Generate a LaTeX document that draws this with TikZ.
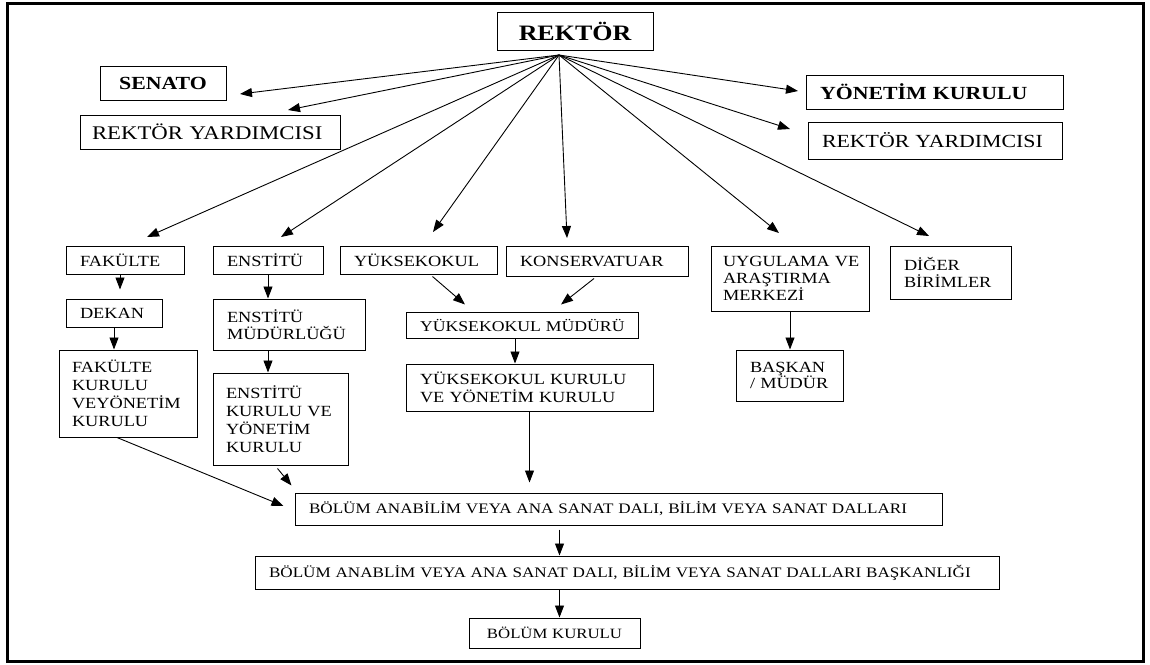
\documentclass[tikz,border=0pt]{standalone}
\usepackage{fontspec}
\setmainfont{Liberation Serif}[FakeStretch=1.18]
\usepackage{tikz}
\usetikzlibrary{arrows.meta}
\usetikzlibrary{calc}

\tikzset{
	box/.style={draw, line width=1pt, inner xsep=14pt, inner ysep=0pt, align=left, font=\fontsize{15.5}{18}\selectfont,
		execute at begin node={\hyphenpenalty=10000}},
	head/.style={draw, line width=1pt, inner sep=0pt, align=center, font=\bfseries\fontsize{18.5}{21}\selectfont},
	arr/.style={-{Triangle[length=12pt,width=9pt]}, line width=0.9pt},
}

\begin{document}
\begin{tikzpicture}[x=1pt,y=-1pt]
	\useasboundingbox (0,0) rectangle (1150,664);
	\draw [line width=3pt] (7,3) rectangle (1143,661);

	\node [head, minimum width=156pt, minimum height=38pt, font=\bfseries\fontsize{22}{25}\selectfont] (rek) at (575,31) {REKTÖR};
	\node [head, minimum width=126pt, minimum height=34pt] (sen) at (163,83) {SENATO};
	\node [box, inner xsep=12pt, text width=236pt, minimum height=34pt, font=\fontsize{19.3}{22}\selectfont] (ryl) at (210,132) {REKTÖR~YARDIMCISI};
	\node [box, text width=229pt, minimum height=34pt, font=\bfseries\fontsize{18.5}{21}\selectfont] (ynk) at (934.5,92) {YÖNETİM~KURULU};
	\node [box, inner xsep=14pt, text width=226pt, minimum height=37pt, font=\fontsize{18.5}{21}\selectfont] (ryr) at (935,140.5) {REKTÖR~YARDIMCISI};

	\node [box, text width=90pt, minimum height=28pt] (fak) at (125,260) {FAKÜLTE};
	\node [box, text width=82pt, minimum height=28pt] (ens) at (268,260) {ENSTİTÜ};
	\node [box, text width=129pt, minimum height=28pt] (yuk) at (418.5,260) {YÜKSEKOKUL};
	\node [box, text width=154pt, minimum height=30pt] (kon) at (597,261) {KONSERVATUAR};
	\node [box, inner xsep=12pt, text width=134pt, minimum height=65pt, font=\fontsize{15.5}{17}\selectfont] (uyg) at (790,278.5) {UYGULAMA~VE\\ARAŞTIRMA\\MERKEZİ};
	\node [box, text width=93pt, minimum height=53pt, font=\fontsize{15.5}{17}\selectfont] (dig) at (950.5,272.5) {DİĞER\\BİRİMLER};

	\node [box, text width=68pt, minimum height=28pt] (dek) at (114,313) {DEKAN};
	\node [box, inner xsep=13pt, text width=112pt, minimum height=87pt] (fkk) at (128,393.5) {FAKÜLTE\\KURULU\\VEYÖNETİM\\KURULU};
	\node [box, text width=124pt, minimum height=51pt, font=\fontsize{15.5}{17}\selectfont] (enm) at (289,324.5) {ENSTİTÜ\\MÜDÜRLÜĞÜ};
	\node [box, inner xsep=13pt, text width=109pt, minimum height=92pt] (enk) at (280.5,419) {ENSTİTÜ\\KURULU~VE\\YÖNETİM\\KURULU};
	\node [box, text width=204pt, minimum height=26pt, font=\fontsize{15}{18}\selectfont] (ykm) at (522,325) {YÜKSEKOKUL~MÜDÜRÜ};
	\node [box, text width=219pt, minimum height=47pt] (ykk) at (529.5,387.5) {YÜKSEKOKUL~KURULU\\VE~YÖNETİM~KURULU};
	\node [box, text width=79pt, minimum height=51pt, font=\fontsize{15.5}{16}\selectfont] (bas) at (789.5,375.5) {BAŞKAN\\/~MÜDÜR};

	\node [box, text width=619pt, minimum height=32pt, font=\fontsize{14.5}{17}\selectfont] (bol) at (618.5,509) {BÖLÜM ANABİLİM VEYA ANA SANAT DALI, BİLİM VEYA SANAT DALLARI};
	\node [box, text width=716pt, minimum height=33pt, font=\fontsize{14.5}{17}\selectfont] (bsk) at (627,572.5) {BÖLÜM ANABLİM VEYA ANA SANAT DALI, BİLİM VEYA SANAT DALLARI BAŞKANLIĞI};
	\node [box, align=center, text width=143pt, minimum height=30pt, font=\fontsize{14.2}{17}\selectfont] (bkr) at (554.5,633) {BÖLÜM~KURULU};

	\coordinate [] (hub) at (559,55);
	\coordinate [] (t-sen) at (240,94);
	\coordinate [] (t-ryl) at (288,110);
	\coordinate [] (t-ynk) at (798,91);
	\coordinate [] (t-ryr) at (790,129);
	\coordinate [] (t-fak) at (147,237);
	\coordinate [] (t-ens) at (281,237);
	\coordinate [] (t-yuk) at (433,232);
	\coordinate [] (t-kon) at (567,238);
	\coordinate [] (t-uyg) at (779,233);
	\coordinate [] (t-dig) at (929,236);

	\foreach \t in {sen,ryl,ynk,ryr,fak,ens,yuk,kon,uyg,dig}
		\draw [arr] (hub) -- (t-\t);

	\draw [arr, shorten >=9pt] ([xshift=-5pt]fak.south) -- ([xshift=6pt]dek.north);
	\draw [arr] (dek.south) -- (dek.south |- fkk.north);
	\draw [arr] (ens.south) -- (ens.south |- enm.north);
	\draw [arr] (ens.south |- enm.south) -- (ens.south |- enk.north);
	\draw [arr] ([xshift=14pt,yshift=-2pt]yuk.south) -- ([xshift=-57pt,yshift=7pt]ykm.north);
	\draw [arr] ([xshift=-3pt,yshift=-2pt]kon.south) -- ([xshift=39pt,yshift=7pt]ykm.north);
	\draw [arr] ([xshift=-7pt]ykm.south) -- ([xshift=-7pt]ykm.south |- ykk.north);
	\draw [arr] (uyg.south) -- (uyg.south |- bas.north);

	\draw [arr] ([xshift=-11pt]fkk.south) -- ([xshift=-11pt,yshift=3pt]bol.west);
	\draw [arr] ([xshift=-3pt,yshift=-3pt]enk.south) -- ([xshift=-3pt,yshift=7pt]bol.north west);
	\draw [arr, shorten >=10pt] (ykk.south) -- (ykk.south |- bol.north);
	\draw [arr] ([xshift=-59pt,yshift=-4pt]bol.south) -- ([xshift=-59pt]bol.south |- bsk.north);
	\draw [arr] ([xshift=5pt]bkr.north |- bsk.south) -- ([xshift=5pt]bkr.north);

\end{tikzpicture}
\end{document}
